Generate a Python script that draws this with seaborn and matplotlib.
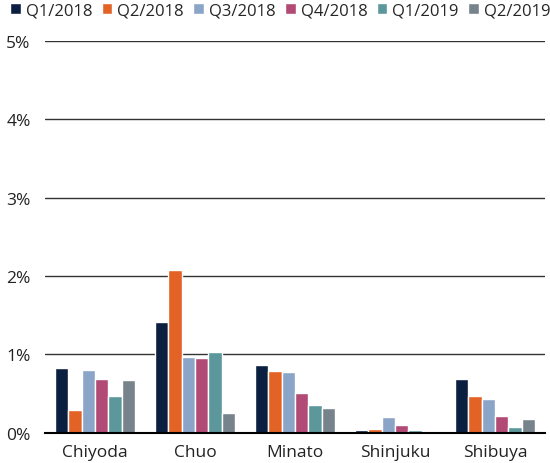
import matplotlib
matplotlib.use("Agg")
import matplotlib.pyplot as plt
import numpy as np
import pandas as pd
import seaborn as sns
from matplotlib.ticker import FuncFormatter

wards = ["Chiyoda", "Chuo", "Minato", "Shinjuku", "Shibuya"]
quarters = ["Q1/2018", "Q2/2018", "Q3/2018", "Q4/2018", "Q1/2019", "Q2/2019"]

# vacancy rate (%) per ward, one list per quarter
q1_2018 = [0.83, 1.41, 0.86, 0.03, 0.69]
q2_2018 = [0.29, 2.08, 0.79, 0.045, 0.47]
q3_2018 = [0.80, 0.97, 0.77, 0.20, 0.43]
q4_2018 = [0.69, 0.96, 0.51, 0.10, 0.21]
q1_2019 = [0.47, 1.03, 0.36, 0.03, 0.07]
q2_2019 = [0.67, 0.25, 0.32, 0.01, 0.18]

colors = ["#0B1F40", "#E36326", "#8BA5C9", "#B24A76", "#5B979B", "#77838B"]

series = [q1_2018, q2_2018, q3_2018, q4_2018, q1_2019, q2_2019]
df = pd.DataFrame(
    [(w, q, v) for q, vals in zip(quarters, series) for w, v in zip(wards, vals)],
    columns=["ward", "quarter", "rate"],
)

sns.set_style("white")
plt.rcParams["font.family"] = ["Open Sans", "DejaVu Sans"]

fig = plt.figure(figsize=(5.5, 4.64), dpi=100)
ax = fig.add_axes([0.082, 0.065, 0.909, 0.845])

sns.barplot(
    data=df, x="ward", y="rate", hue="quarter",
    order=wards, hue_order=quarters, palette=colors,
    width=0.8, saturation=1, ax=ax, legend=True,
)

ax.set_ylim(0, 5)
ax.set_yticks([0, 1, 2, 3, 4, 5])
ax.yaxis.set_major_formatter(FuncFormatter(lambda v, _: f"{v:.0f}%"))
ax.yaxis.grid(True, color="#333333", lw=1)
ax.set_axisbelow(True)
for s in ["top", "right", "left"]:
    ax.spines[s].set_visible(False)
ax.spines["bottom"].set_color("black")
ax.spines["bottom"].set_linewidth(1.5)
ax.tick_params(axis="both", length=0, labelsize=12.5, colors="#222222")
ax.tick_params(axis="x", pad=8)
ax.tick_params(axis="y", pad=28)
for lbl in ax.get_yticklabels():
    lbl.set_horizontalalignment("left")
ax.set_xlabel("")
ax.set_ylabel("")

handles, labels = ax.get_legend_handles_labels()
ax.get_legend().remove()
fig.legend(
    handles, labels, loc="upper left", bbox_to_anchor=(0.0, 1.015),
    ncol=6, frameon=False, fontsize=12, handlelength=0.65, handleheight=0.65,
    handletextpad=0.3, columnspacing=0.55, borderaxespad=0.2,
)

fig.savefig("out.png", dpi=100)
